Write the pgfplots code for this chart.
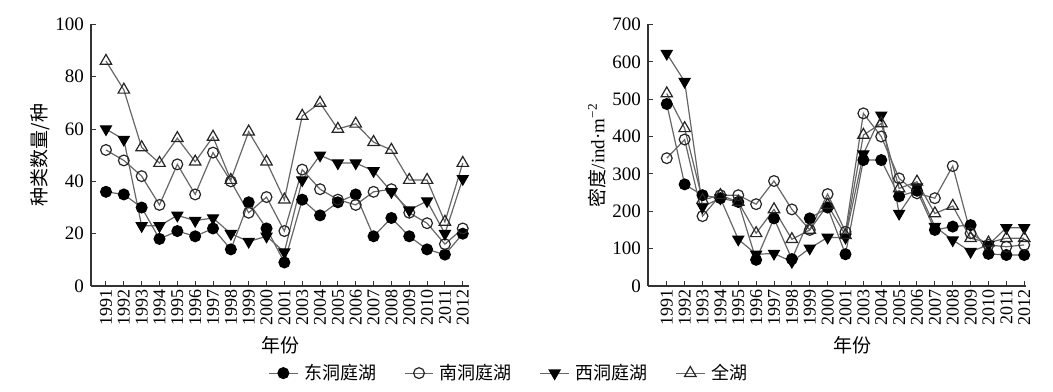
\documentclass[border=0pt]{standalone}
\usepackage{pgfplots}
\pgfplotsset{compat=1.18}
\usepackage{pgfplotstable}
\usepackage{fontspec}
\setmainfont{Liberation Serif}
\newfontfamily\cjk{Noto Sans CJK SC}

% x: 0=1991 ... 10=2001, 11=2003 ... 20=2012
\pgfplotstableread{
x east south west total
0 36 52 60 86
1 35 48 56 75
2 30 42 23 53
3 18 31 23 47
4 21 46.5 27 56.5
5 19 35 25 47.5
6 22 51 26 57
7 14 40 20 40.5
8 32 28 17 59
9 22 34 19 47.5
10 9 21 13 33
11 33 44.5 40.5 65
12 27 37 50 70
13 32 33 47 60
14 35 31 47 62
15 19 36 44 55
16 26 37 36 52
17 19 28 29 40.5
18 14 24 32.5 40.5
19 12 16 20 24.5
20 20 22 41 47
}\specdata

\pgfplotstableread{
x east south west total
0 487 342 622 515
1 272 392 547 422
2 243 187 212 230
3 235 243 235 243
4 225 243 125 225
5 70 219 85 141
6 181 281 87 205
7 72 205 65 125
8 181 150 101 150
9 210 246 130 217
10 85 145 130 136
11 337 462 353 404
12 337 400 457 435
13 240 288 194 261
14 255 248 265 279
15 150 235 159 194
16 159 321 123 214
17 163 141 92 128
18 86 110 110 116
19 83 105 156 128
20 83 110 156 128
}\densdata

\pgfplotsset{
  myaxis/.style={
    scale only axis,
    width=189pt, height=130.8pt,
    axis x line*=bottom, axis y line*=left,
    axis line style={black!80, line width=0.6pt},
    xtick={0,...,20},
    xticklabels={1991,1992,1993,1994,1995,1996,1997,1998,1999,2000,2001,2003,2004,2005,2006,2007,2008,2009,2010,2011,2012},
    x tick label style={rotate=90, anchor=east, font=\fontsize{9}{10}\selectfont, inner sep=1.5pt},
    y tick label style={font=\fontsize{9.5}{10}\selectfont},
    /pgf/number format/assume math mode=true,
    tick align=inside, major tick length=2.5pt,
    tick style={black!80, line width=0.5pt},
    ymin=0,
    label style={font=\fontsize{9.5}{11}\selectfont},
    xlabel={\cjk 年份},
    xlabel style={at={(rel axis cs:0.5,-0.225)}, anchor=center},
    ylabel style={at={(rel axis cs:-0.135,0.5)}, anchor=center, rotate=0},
    every axis plot/.append style={color=black!60, line width=0.6pt,
      mark size=2.7pt},
  },
  seast/.style={mark=*, mark options={draw=black, fill=black, solid}},
  ssouth/.style={mark=o, mark options={draw=black!85, fill=white, solid, line width=0.6pt}},
  swest/.style={mark=triangle*, mark options={draw=black, fill=black, rotate=180, solid}, mark size=3.1pt},
  stotal/.style={mark=triangle, mark options={draw=black!85, fill=white, solid, line width=0.6pt}, mark size=3.3pt},
}

\begin{document}
\begin{tikzpicture}
\path[use as bounding box] (-45.5pt,-52.5pt) rectangle (481pt,143pt);
\begin{axis}[myaxis, at={(0pt,0pt)}, anchor=south west,
  xmin=-0.84, xmax=20.35, ymax=100, ytick={0,20,...,100},
  ylabel={\cjk 种类数量/种},
  legend columns=4,
  legend style={at={(1.108,-0.333)}, anchor=center, draw=none, fill=none,
    font=\fontsize{9}{10}\selectfont\cjk, column sep=1pt,
    /tikz/every even column/.append style={column sep=12pt}},
  legend image code/.code={
    \draw[#1, mark repeat=2, mark phase=2] plot coordinates {(0cm,0cm) (0.25cm,0cm) (0.5cm,0cm)};},
]
\addplot[seast] table[x=x,y=east]{\specdata};
\addlegendentry{东洞庭湖}
\addplot[ssouth] table[x=x,y=south]{\specdata};
\addlegendentry{南洞庭湖}
\addplot[swest] table[x=x,y=west]{\specdata};
\addlegendentry{西洞庭湖}
\addplot[stotal] table[x=x,y=total]{\specdata};
\addlegendentry{全湖}
\end{axis}
\begin{axis}[myaxis, at={(278.5pt,0pt)}, anchor=south west,
  xmin=-1.05, xmax=20.1, ymax=700, ytick={0,100,...,700},
  ylabel={{\cjk 密度}/ind·m\textsuperscript{−2}},
  xlabel style={at={(rel axis cs:0.54,-0.225)}},
]
\addplot[seast] table[x=x,y=east]{\densdata};
\addplot[ssouth] table[x=x,y=south]{\densdata};
\addplot[swest] table[x=x,y=west]{\densdata};
\addplot[stotal] table[x=x,y=total]{\densdata};
\end{axis}
\end{tikzpicture}
\end{document}
